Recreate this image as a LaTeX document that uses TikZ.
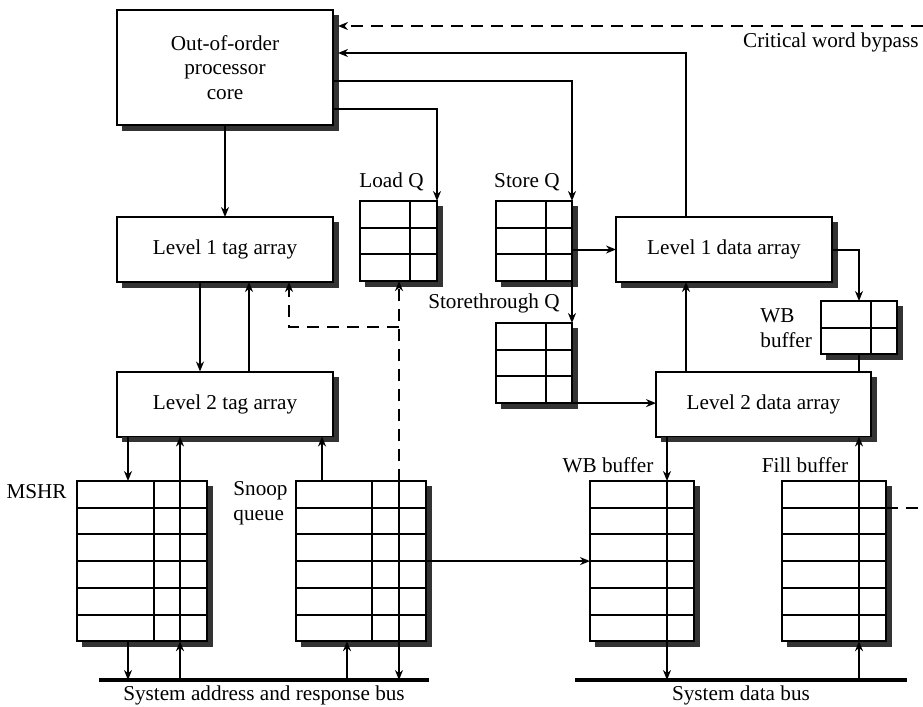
\documentclass[tikz,border=0pt]{standalone}
\usepackage{fontspec}
\setmainfont{Liberation Serif}
\usetikzlibrary{calc, arrows.meta, positioning}

\tikzset{
  arraybox/.style={draw, line width=1pt, fill=white, minimum width=108pt, minimum height=32.5pt,
    inner sep=0pt, outer sep=0pt},
  qbox/.style={draw, line width=1pt, fill=white, inner sep=0pt, outer sep=0pt},
  shadowline/.style={draw=black!80, line width=2.5pt},
  cellline/.style={line width=1pt},
  lbl/.style={inner sep=0pt},
  wire/.style={line width=1pt},
  arr/.style={line width=1pt, -{Stealth[length=5pt, width=4pt]}},
  dashlink/.style={line width=1pt, dash pattern=on 6pt off 4pt},
  bus/.style={line width=2pt}
}

% table of entries: name, top left corner, width, rows, column offsets
\newcommand{\qtable}[5]{%
  \node[qbox, anchor=north west, minimum width=#3*0.5pt, minimum height=#4*13.35pt] (#1) at #2 {};
  \foreach \row in {2,...,#4}
    \draw[cellline] ($(#1.north west)+(0,{(\row-1)*26.7})$) -- ++(#3,0);
  \foreach \col in {#5}
    \draw[cellline] ($(#1.north west)+(\col,0)$) -- ++(0,{#4*26.7});
}

\begin{document}
\begin{tikzpicture}[x=0.5pt, y=-0.5pt, font=\fontsize{10.6pt}{12.4pt}\selectfont]
  \useasboundingbox (0,0) rectangle (923,707);

  % core and the tag/data arrays
  \node[arraybox, minimum height=57.5pt, align=center] (core) at (225,67.5) {Out-of-order\\processor\\core};
  \node[arraybox] (l1tag) at (225,249.5) {Level 1 tag array};
  \node[arraybox] (l2tag) at (225,404) {Level 2 tag array};
  \node[arraybox] (l1data) at (724,249.5) {Level 1 data array};
  \node[arraybox, minimum width=107.5pt] (l2data) at (763.5,404) {Level 2 data array};

  % queues and buffers
  \qtable{loadq}{(360,201)}{77}{3}{50}
  \qtable{storeq}{(496,201)}{76}{3}{50}
  \qtable{stthq}{(496,323)}{76}{3}{50}
  \qtable{wbq}{(821,301)}{76}{2}{50}
  \qtable{mshr}{(77,481)}{130}{6}{77,103}
  \qtable{snoopq}{(296,481)}{130}{6}{76,103}
  \qtable{wbbuf}{(590,481)}{104}{6}{77}
  \qtable{fillbuf}{(782,481)}{104}{6}{77}

  % shadow along the bottom and right of every box
  \foreach \bx in {core, l1tag, l2tag, l1data, l2data, loadq, storeq, stthq, wbq, mshr, snoopq, wbbuf, fillbuf}
    \draw[shadowline] ([shift={(2.5pt,-1.5pt)}]\bx.south west) -- ([shift={(1.5pt,-1.5pt)}]\bx.south east)
      -- ([shift={(1.5pt,-2.5pt)}]\bx.north east);

  % buses
  \coordinate (abusl) at (99,680);
  \coordinate (abusr) at (429,680);
  \coordinate (dbusl) at (575,680);
  \coordinate (dbusr) at (907,680);
  \draw[bus] (abusl) -- (abusr);
  \draw[bus] (dbusl) -- (dbusr);

  % labels
  \node[lbl] (abuslbl) at (264,695) {System address and response bus};
  \node[lbl] (dbuslbl) at (741,695) {System data bus};
  \node[lbl, anchor=east] (loadqlbl) at (424,182) {Load Q};
  \node[lbl, anchor=east] (storeqlbl) at (560,182) {Store Q};
  \node[lbl, anchor=east] (stthqlbl) at (560,303) {Storethrough Q};
  \node[lbl, anchor=west, align=left] (wbqlbl) at (760,328) {WB\\buffer};
  \node[lbl, anchor=east] (mshrlbl) at (67,492) {MSHR};
  \node[lbl, anchor=west, align=left] (snooplbl) at (233,503) {Snoop\\queue};
  \node[lbl] (wbbuflbl) at (608,465) {WB buffer};
  \node[lbl] (filllbl) at (805,465) {Fill buffer};
  \node[lbl, anchor=east] (bypasslbl) at (919,42) {Critical word bypass};

  % core to tags, queues; data back to core
  \draw[arr] (core) -- (l1tag);
  \draw[arr] ([yshift=-20.75pt]core.east) -| (loadq.north east);
  \draw[arr] ([yshift=-6.75pt]core.east) -| (storeq.north east);
  \draw[arr] ([xshift=-19pt]l1data.north) |- ([xshift=2.5pt, yshift=7.25pt]core.east);
  \coordinate (bypass) at (923,26);
  \draw[arr, dashlink] (bypass) -- ([xshift=2.5pt]bypass -| core.east);

  % tag side
  \draw[arr] ([xshift=-12.5pt]l1tag.south) -- ([xshift=-12.5pt]l2tag.north);
  \draw[arr] ([xshift=12pt]l2tag.north) -- ([xshift=12pt]l1tag.south);
  \draw[arr] ([xshift=25.5pt]mshr.north west |- l2tag.south) -- ([xshift=25.5pt]mshr.north west);
  \draw[arr] ([xshift=51.5pt]mshr.north west) -- ([xshift=51.5pt]mshr.north west |- l2tag.south);
  \draw[arr] ([xshift=25.5pt]mshr.south west) -- ([xshift=25.5pt]mshr.south west |- abusl);
  \draw[arr] ([xshift=51.5pt]mshr.south west |- abusl) -- ([xshift=51.5pt]mshr.south west);
  \draw[arr] ([xshift=13pt]snoopq.north west) -- ([xshift=13pt]snoopq.north west |- l2tag.south);
  \draw[arr] ([xshift=25.5pt]snoopq.south west |- abusl) -- ([xshift=25.5pt]snoopq.south west);
  \draw[arr] ([xshift=51.5pt]snoopq.south west) -- ([xshift=51.5pt]snoopq.south west |- abusl);

  % snoops up to the L1 tags and load queue
  \coordinate (snbr) at (399,327);
  \draw[arr, dashlink] ([xshift=51.5pt]snoopq.north west) -- (snbr) -- (snbr |- loadq.south);
  \draw[arr, dashlink] (snbr) -| ([xshift=32pt]l1tag.south);
  \draw[arr] (snoopq.east) -- (wbbuf.west);

  % data side
  \draw[arr] (storeq.east |- l1data.west) -- (l1data.west);
  \draw[arr] (storeq.south east) -- (stthq.north east);
  \draw[arr] (stthq.south east) -- (stthq.south east -| l2data.west);
  \draw[arr] (l1data.east) -| (wbq.north);
  \draw[wire] (wbq.south) -- (wbq.south |- l2data.north);
  \draw[arr] ([xshift=-19pt]l1data.south |- l2data.north) -- ([xshift=-19pt]l1data.south);
  \draw[arr] ([xshift=38.5pt]wbbuf.north west |- l2data.south) -- ([xshift=38.5pt]wbbuf.north west);
  \draw[arr] ([xshift=38.5pt]wbbuf.south west) -- ([xshift=38.5pt]wbbuf.south west |- dbusl);
  \draw[arr] ([xshift=38.5pt]fillbuf.south west |- dbusl) -- ([xshift=38.5pt]fillbuf.south west);
  \draw[arr] ([xshift=38.5pt]fillbuf.north west) -- ([xshift=38.5pt]fillbuf.north west |- l2data.south);
  \coordinate (fillout) at (923,507.7);
  \draw[dashlink] (fillout -| fillbuf.east) -- (fillout);
\end{tikzpicture}
\end{document}
